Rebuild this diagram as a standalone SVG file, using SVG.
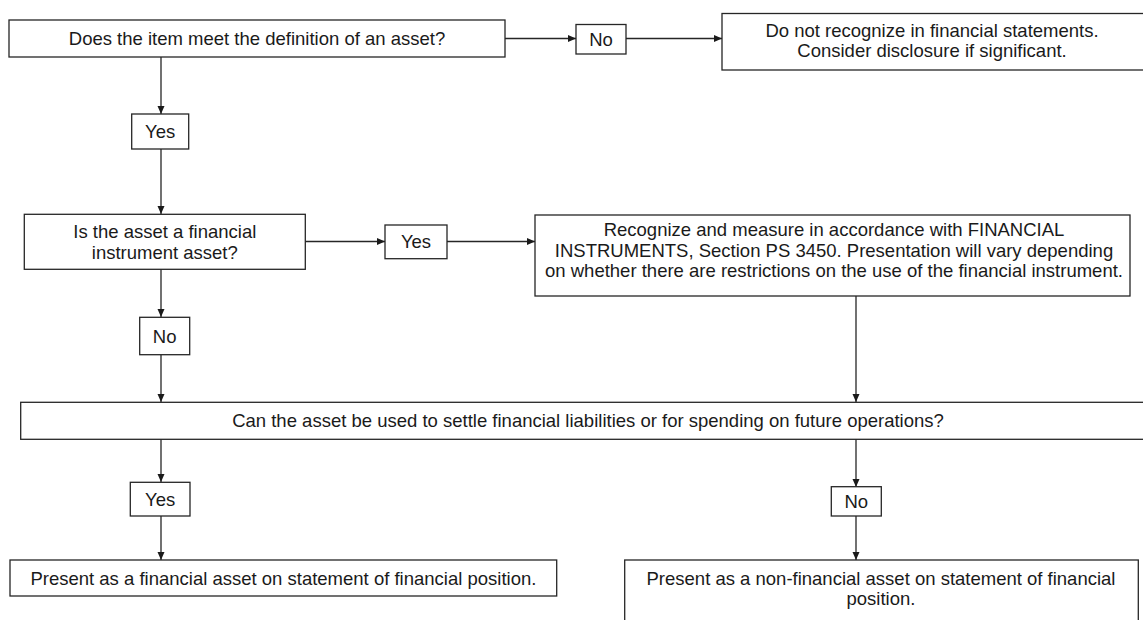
<svg xmlns="http://www.w3.org/2000/svg" width="1143" height="620" viewBox="0 0 1143 620">
  <style>
    .box { fill: #ffffff; stroke: #262626; stroke-width: 1.3; }
    .lbl { font-family: "Liberation Sans", Arial, sans-serif; font-size: 18.5px; fill: #1a1a1a; text-anchor: middle; }
    .conn { stroke: #262626; stroke-width: 1.3; fill: none; marker-end: url(#ah); }
  </style>
  <defs>
    <marker id="ah" viewBox="0 0 8 8" refX="8" refY="4" markerWidth="8" markerHeight="8" orient="auto" markerUnits="userSpaceOnUse">
      <path d="M0,0.5 L8,4 L0,7.5 z" fill="#1a1a1a"/>
    </marker>
  </defs>
  <rect width="1143" height="620" fill="#ffffff"/>

  <g id="connectors">
    <line class="conn" x1="161" y1="57" x2="161" y2="114"/>
    <line class="conn" x1="161" y1="149" x2="161" y2="214"/>
    <line class="conn" x1="505" y1="38.5" x2="576" y2="38.5"/>
    <line class="conn" x1="626" y1="38.5" x2="722" y2="38.5"/>
    <line class="conn" x1="305" y1="241.5" x2="385" y2="241.5"/>
    <line class="conn" x1="447" y1="241.5" x2="535" y2="241.5"/>
    <line class="conn" x1="161" y1="269" x2="161" y2="317"/>
    <line class="conn" x1="161" y1="355" x2="161" y2="402"/>
    <line class="conn" x1="856" y1="296" x2="856" y2="402"/>
    <line class="conn" x1="161" y1="439" x2="161" y2="482"/>
    <line class="conn" x1="161" y1="516" x2="161" y2="560"/>
    <line class="conn" x1="856" y1="439" x2="856" y2="487"/>
    <line class="conn" x1="856" y1="516" x2="856" y2="560"/>
  </g>

  <g id="q1">
    <rect class="box" x="9" y="20" width="496" height="37"/>
    <text class="lbl" x="257" y="45">Does the item meet the definition of an asset?</text>
  </g>
  <g id="no1">
    <rect class="box" x="576" y="24.5" width="50" height="29.5"/>
    <text class="lbl" x="601" y="45.5">No</text>
  </g>
  <g id="notrecognize">
    <rect class="box" x="722" y="13.5" width="430" height="56.5"/>
    <text class="lbl" x="932" y="36.7">Do not recognize in financial statements.</text>
    <text class="lbl" x="932" y="56.7">Consider disclosure if significant.</text>
  </g>
  <g id="yes1">
    <rect class="box" x="131.7" y="114" width="57" height="35"/>
    <text class="lbl" x="160.2" y="138">Yes</text>
  </g>
  <g id="q2">
    <rect class="box" x="24.3" y="214.3" width="281" height="55"/>
    <text class="lbl" x="164.8" y="237.8">Is the asset a financial</text>
    <text class="lbl" x="164.8" y="259">instrument asset?</text>
  </g>
  <g id="yes2">
    <rect class="box" x="385" y="225" width="62" height="33.7"/>
    <text class="lbl" x="416" y="248.4">Yes</text>
  </g>
  <g id="recognize">
    <rect class="box" x="535" y="215" width="595" height="81"/>
    <text class="lbl" x="834" y="236">Recognize and measure in accordance with FINANCIAL</text>
    <text class="lbl" x="834" y="256.7">INSTRUMENTS, Section PS 3450. Presentation will vary depending</text>
    <text class="lbl" x="834" y="277.4">on whether there are restrictions on the use of the financial instrument.</text>
  </g>
  <g id="no2">
    <rect class="box" x="139.7" y="317.3" width="50" height="37.4"/>
    <text class="lbl" x="164.7" y="342.6">No</text>
  </g>
  <g id="q3">
    <rect class="box" x="20.7" y="402.3" width="1140" height="37"/>
    <text class="lbl" x="588" y="427.4">Can the asset be used to settle financial liabilities or for spending on future operations?</text>
  </g>
  <g id="yes3">
    <rect class="box" x="130.3" y="482.3" width="59.7" height="33.7"/>
    <text class="lbl" x="160.2" y="505.8">Yes</text>
  </g>
  <g id="no3">
    <rect class="box" x="831.3" y="486.7" width="50" height="29.3"/>
    <text class="lbl" x="856.3" y="508">No</text>
  </g>
  <g id="financialasset">
    <rect class="box" x="10" y="560" width="546.7" height="36"/>
    <text class="lbl" x="283.4" y="584.6">Present as a financial asset on statement of financial position.</text>
  </g>
  <g id="nonfinancialasset">
    <rect class="box" x="624.7" y="560" width="513.6" height="80"/>
    <text class="lbl" x="881" y="585">Present as a non-financial asset on statement of financial</text>
    <text class="lbl" x="881" y="605">position.</text>
  </g>
</svg>
